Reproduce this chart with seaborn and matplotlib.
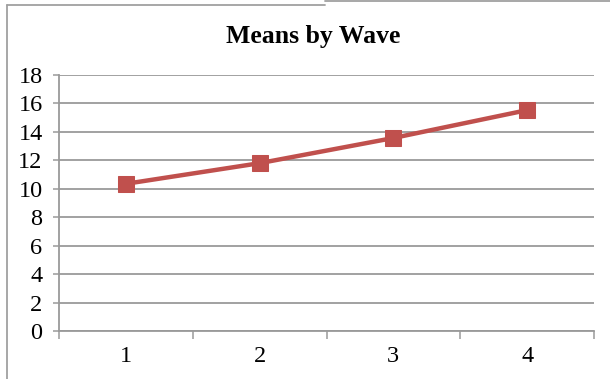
import matplotlib
matplotlib.use("Agg")
import matplotlib.pyplot as plt
from matplotlib.lines import Line2D
from matplotlib.ticker import FixedLocator, NullFormatter
import seaborn as sns
import pandas as pd

# Mean score at each survey wave
waves = [1, 2, 3, 4]
means = [10.35, 11.8, 13.57, 15.53]
y_ticks = [0, 2, 4, 6, 8, 10, 12, 14, 16, 18]
title = "Means by Wave"

df = pd.DataFrame({"wave": waves, "mean": means})

sns.set_theme(style="white")
plt.rcParams["font.family"] = ["Liberation Serif", "DejaVu Serif"]

W, H = 610, 379
fig = plt.figure(figsize=(W / 100, H / 100), dpi=100)
ax = fig.add_axes([59 / W, 1 - 331 / H, (594 - 59) / W, (331 - 75) / H])

grid_col = "#9a9a9a"
red = "#C0504D"

sns.lineplot(data=df, x="wave", y="mean", ax=ax, color=red, linewidth=3.2,
             marker="s", markersize=11.5, markeredgecolor=red,
             markerfacecolor=red, zorder=3)

ax.set_xlim(0.5, 4.5)
ax.set_ylim(0, 18)
ax.set_yticks(y_ticks)
ax.set_yticklabels([str(v) for v in y_ticks])
ax.set_xticks(waves)
ax.set_xticklabels([str(w) for w in waves])
ax.xaxis.set_minor_locator(FixedLocator([0.5, 1.5, 2.5, 3.5, 4.5]))
ax.xaxis.set_minor_formatter(NullFormatter())

ax.grid(axis="y", color=grid_col, linewidth=1.3, zorder=0)
ax.set_axisbelow(True)
ax.set_xlabel("")
ax.set_ylabel("")

for side in ["top", "right"]:
    ax.spines[side].set_visible(False)
for side in ["left", "bottom"]:
    ax.spines[side].set_visible(True)
    ax.spines[side].set_color(grid_col)
    ax.spines[side].set_linewidth(1.3)

ax.tick_params(axis="y", which="major", left=True, length=4.3, width=1.1,
               color=grid_col, pad=7.5, labelsize=17.5, labelcolor="black")
ax.tick_params(axis="x", which="major", bottom=False, length=0, pad=11,
               labelsize=17.5, labelcolor="black")
ax.tick_params(axis="x", which="minor", bottom=True, length=5.4, width=1.1,
               color=grid_col)

fig.text((228 + 398) / 2 / W, 1 - 37 / H, title, ha="center", va="center",
         fontsize=18.5, fontweight="bold", color="black")

# Chart frame
frame_col = "#a0a0a0"
def px(x, y):
    return x / W, 1 - y / H
for (x0, y0), (x1, y1) in [((7, 4.5), (7, 379)), ((7, 4.5), (325, 4.5)),
                           ((325, 0.7), (610, 0.7))]:
    a, b = px(x0, y0)
    c, d = px(x1, y1)
    fig.add_artist(Line2D([a, c], [b, d], transform=fig.transFigure,
                          color=frame_col, linewidth=1.3))

fig.savefig("out.png", dpi=100, facecolor="white")
